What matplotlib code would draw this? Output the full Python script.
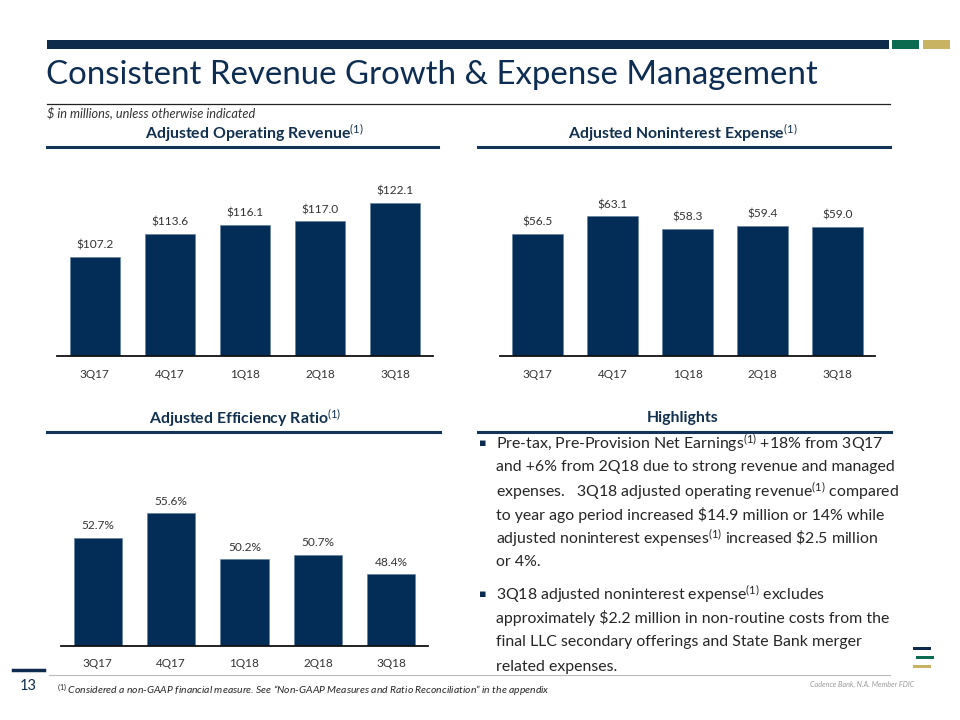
import matplotlib
matplotlib.use("Agg")
import matplotlib.pyplot as plt
from matplotlib.patches import Rectangle
from matplotlib.lines import Line2D

plt.rcParams['font.family'] = ['Lato', 'DejaVu Sans']
plt.rcParams['mathtext.fontset'] = 'custom'
plt.rcParams['mathtext.rm'] = 'Lato'
plt.rcParams['mathtext.it'] = 'Lato:italic'
plt.rcParams['mathtext.bf'] = 'Lato:bold'

# ---------------- data ----------------
quarters = ['3Q17', '4Q17', '1Q18', '2Q18', '3Q18']
revenue = [107.2, 113.6, 116.1, 117.0, 122.1]
expense = [56.5, 63.1, 58.3, 59.4, 59.0]
efficiency = [52.7, 55.6, 50.2, 50.7, 48.4]
revenue_labels = ['$107.2', '$113.6', '$116.1', '$117.0', '$122.1']
expense_labels = ['$56.5', '$63.1', '$58.3', '$59.4', '$59.0']
efficiency_labels = ['52.7%', '55.6%', '50.2%', '50.7%', '48.4%']

title = 'Consistent Revenue Growth & Expense Management'
subtitle = '$ in millions, unless otherwise indicated'
highlight_lines = [
    ('Pre-tax, Pre-Provision Net Earnings$^{(1)}$ +18% from 3Q17', True),
    ('and +6% from 2Q18 due to strong revenue and managed', False),
    ('expenses.   3Q18 adjusted operating revenue$^{(1)}$ compared', False),
    ('to year ago period increased \\$14.9 million or 14% while', False),
    ('adjusted noninterest expenses$^{(1)}$ increased \\$2.5 million', False),
    ('or 4%.', False),
    ('3Q18 adjusted noninterest expense$^{(1)}$ excludes', True),
    ('approximately \\$2.2 million in non-routine costs from the', False),
    ('final LLC secondary offerings and State Bank merger', False),
    ('related expenses.', False),
]

NAVY = '#0A2C50'
BAR = '#032D56'
GREEN = '#0B6B50'
GOLD = '#C8B362'
TXT = '#262626'

W, H = 960, 720
fig = plt.figure(figsize=(9.6, 7.2), dpi=100)
fig.patch.set_facecolor('white')


def fx(x):
    return x / W


def fy(y):
    return 1 - y / H


def rect(x0, y0, x1, y1, color):
    fig.patches.append(Rectangle((fx(x0), fy(y1)), fx(x1) - fx(x0), fy(y0) - fy(y1),
                                 transform=fig.transFigure, color=color, lw=0))


def hline(x0, x1, y, color, lw):
    fig.add_artist(Line2D([fx(x0), fx(x1)], [fy(y), fy(y)], transform=fig.transFigure,
                          color=color, lw=lw))


def text(x, y, s, **kw):
    fig.text(fx(x), fy(y), s, **kw)


# ---------------- header ----------------
rect(47, 39.5, 889, 48.5, '#0E2B4B')
rect(892, 39.5, 919, 48.5, GREEN)
rect(923, 39.5, 950, 48.5, GOLD)
text(46, 75, title, fontsize=23.8, color='#0E2D52', va='center', ha='left')
hline(47, 890, 104, '#222222', 0.9)
text(47, 113, subtitle, fontsize=9.2, style='italic', color='#333333', va='center', ha='left')

# section headers
sections = [
    (254, 133, 47, 438, 147, 'Adjusted Operating Revenue$^{(1)}$'),
    (683, 133, 478, 890, 147, 'Adjusted Noninterest Expense$^{(1)}$'),
    (245, 418, 47, 440, 432, 'Adjusted Efficiency Ratio$^{(1)}$'),
    (683, 418, 478, 891, 432, 'Highlights'),
]
for cx, cy, x0, x1, ly, s in sections:
    text(cx, cy, s, fontsize=11.4, fontweight='bold', color='#12304F', ha='center', va='center')
    hline(x0, x1, ly, '#13355A', 2.2)


# ---------------- charts ----------------
def bar_chart(left, right, top, bottom, vals, labels, ymin, px_per_unit, width):
    ax = fig.add_axes([fx(left), fy(bottom), fx(right) - fx(left), fy(top) - fy(bottom)])
    x = list(range(len(vals)))
    ax.bar(x, vals, width=width, color=BAR, edgecolor='#5F7C99', linewidth=0.4, zorder=2)
    ax.set_xlim(-0.5, len(vals) - 0.5)
    ax.set_ylim(ymin, ymin + (bottom - top) / px_per_unit)
    for i, (v, lab) in enumerate(zip(vals, labels)):
        ax.annotate(lab, (i, v), xytext=(0, 8.5), textcoords='offset points',
                    ha='center', va='center', fontsize=8.6, color='#333333')
    ax.set_xticks(x)
    ax.set_xticklabels(quarters, fontsize=8.5, color='#333333')
    ax.tick_params(axis='x', length=0, pad=9)
    ax.set_yticks([])
    for sp in ['top', 'left', 'right']:
        ax.spines[sp].set_visible(False)
    ax.spines['bottom'].set_color('#111111')
    ax.spines['bottom'].set_linewidth(1.3)
    ax.patch.set_alpha(0)
    return ax


bar_chart(57, 433, 160, 356, revenue, revenue_labels, 80.1, 3.65, 0.667)
bar_chart(500, 875, 160, 356, expense, expense_labels, 9.8, 2.62, 0.667)
bar_chart(61, 428, 460, 645.7, efficiency, efficiency_labels, 40.0, 8.5, 0.656)

# ---------------- highlights ----------------
line_y = [443.3, 467, 490.7, 514.7, 538.3, 562, 594.3, 618, 642.3, 666.5]
for (s, bullet), y in zip(highlight_lines, line_y):
    if bullet:
        text(482.5, y, '\u25aa', fontsize=8, color='#0A2C50', family='DejaVu Sans',
             ha='center', va='center')
    text(496, y, s, fontsize=11.45, color=TXT, ha='left', va='center')

# ---------------- footer ----------------
hline(49, 890, 675, '#BBBBBB', 0.8)
hline(13, 44, 670, '#0E2B4B', 2.5)
text(28.5, 686, '13', fontsize=10.5, color='#0E2B4B', ha='center', va='center')
text(57, 690, '$^{(1)}$ Considered a non-GAAP financial measure. See \u201cNon-GAAP Measures and Ratio Reconciliation\u201d in the appendix',
     fontsize=7.45, style='italic', color='#262626', ha='left', va='center')
text(862, 684, 'Cadence Bank, N.A. Member FDIC', fontsize=5.2, style='italic', color='#9A9A9A',
     ha='center', va='center')
# logo
rect(913, 647, 931, 650, '#0E2B4B')
rect(916, 656, 934, 659, GREEN)
rect(913, 665, 931, 668, GOLD)

fig.savefig('out.png', dpi=100)
